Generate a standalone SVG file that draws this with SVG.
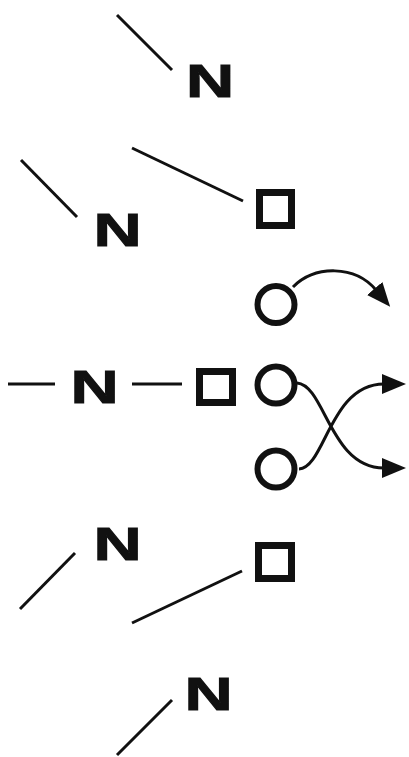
<svg xmlns="http://www.w3.org/2000/svg" width="409" height="757" viewBox="0 0 409 757">
<style>
.ln{stroke:#111;stroke-width:3;fill:none;stroke-linecap:butt}
.sq{fill:none;stroke:#111;stroke-width:7}
.ci{fill:none;stroke:#111;stroke-width:6}
.n{font-family:"Liberation Sans",Arial,sans-serif;font-weight:bold;font-size:46px;fill:#111;stroke:#111;stroke-width:1;text-anchor:middle}
</style>
<defs>
<marker id="ah" markerUnits="userSpaceOnUse" markerWidth="26" markerHeight="22" refX="2" refY="10" orient="auto">
<path d="M0,0 L24,10 L0,20 z" fill="#111"/>
</marker>
</defs>
<rect width="409" height="757" fill="#fff"/>
<g id="connectors">
<line class="ln" x1="117" y1="15" x2="172" y2="70"/>
<line class="ln" x1="21" y1="160" x2="77" y2="217"/>
<line class="ln" x1="132" y1="148" x2="243" y2="201"/>
<line class="ln" x1="8" y1="384" x2="55" y2="384"/>
<line class="ln" x1="132" y1="384" x2="182" y2="384"/>
<line class="ln" x1="20" y1="609" x2="75" y2="553"/>
<line class="ln" x1="132" y1="623" x2="242" y2="571"/>
<line class="ln" x1="117" y1="755" x2="172" y2="700"/>
<path class="ln" d="M293 287 C315 265 355 265 376 290" marker-end="url(#ah)"/>
<path class="ln" d="M297 383 C325 385 330 468 384 468" marker-end="url(#ah)"/>
<path class="ln" d="M299 469 C325 468 330 384 384 384" marker-end="url(#ah)"/>
</g>
<g id="n1"><text class="n" transform="translate(210,97) scale(1.45,1)">N</text></g>
<g id="n2"><text class="n" transform="translate(117.5,246) scale(1.45,1)">N</text></g>
<g id="n3"><text class="n" transform="translate(94.5,403) scale(1.45,1)">N</text></g>
<g id="n4"><text class="n" transform="translate(117.5,560) scale(1.45,1)">N</text></g>
<g id="n5"><text class="n" transform="translate(208.5,710) scale(1.45,1)">N</text></g>
<g id="s1"><rect class="sq" x="259.5" y="192.5" width="32" height="33"/></g>
<g id="s2"><rect class="sq" x="199.5" y="371.5" width="33" height="31"/></g>
<g id="s3"><rect class="sq" x="258.5" y="545.5" width="33" height="33"/></g>
<g id="c1"><circle class="ci" cx="276" cy="304.5" r="18.5"/></g>
<g id="c2"><circle class="ci" cx="276" cy="385" r="18.5"/></g>
<g id="c3"><circle class="ci" cx="276" cy="469" r="18.5"/></g>
</svg>
